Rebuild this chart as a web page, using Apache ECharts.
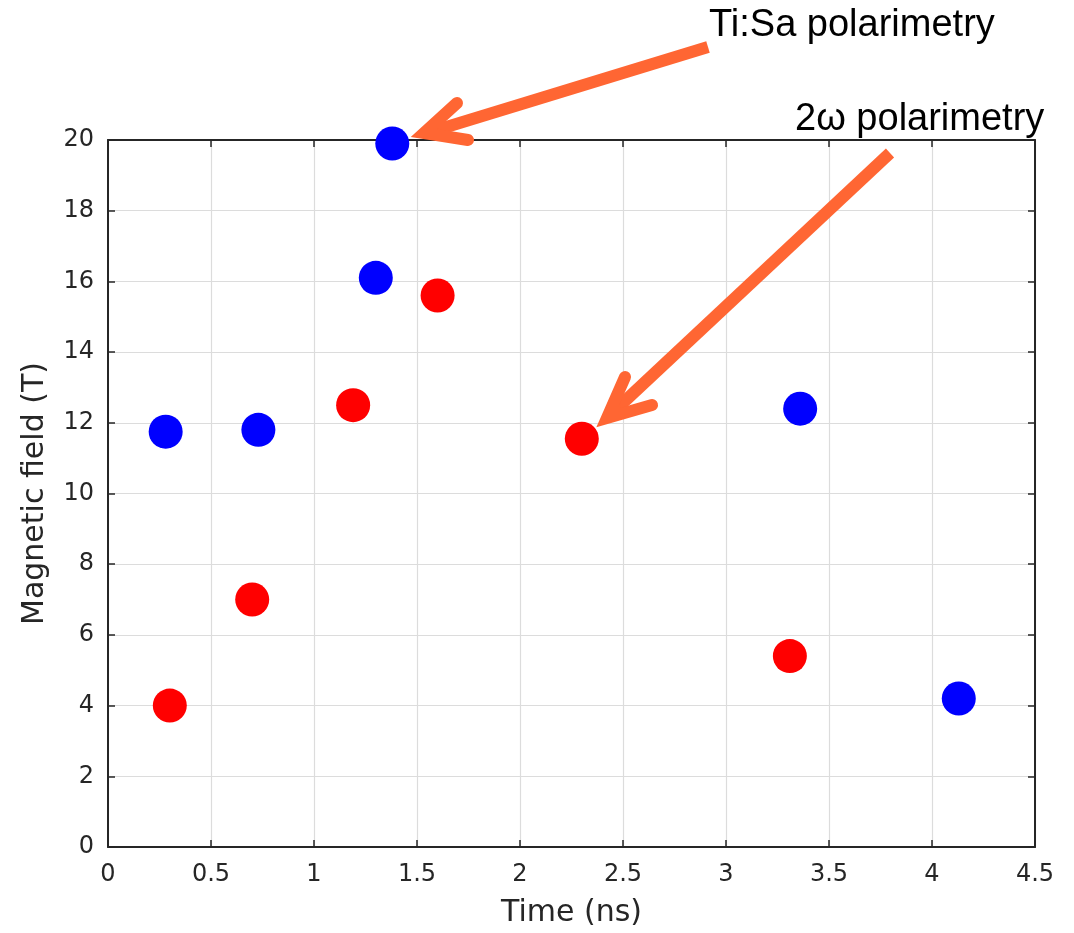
<!DOCTYPE html>
<html>
<head>
<meta charset="utf-8">
<script src="https://cdn.jsdelivr.net/npm/echarts@6/dist/echarts.min.js"></script>
<style>
  html, body { margin: 0; padding: 0; background: #fff; }
  #chart { width: 1074px; height: 933px; }
</style>
</head>
<body>
<div id="chart"></div>
<script>
// Ti:Sa polarimetry (blue)
const timeBlue = [0.28, 0.73, 1.38, 1.30, 3.36, 4.13];
const fieldBlue = [11.75, 11.8, 19.9, 16.1, 12.4, 4.2];
// 2w polarimetry (red)
const timeRed = [0.30, 0.70, 1.19, 1.60, 2.30, 3.31];
const fieldRed = [4.0, 7.0, 12.5, 15.6, 11.55, 5.4];

const xMin = 0, xMax = 4.5, xStep = 0.5;
const yMin = 0, yMax = 20, yStep = 2;

const axisColor = '#262626';
const arrowColor = '#ff6633';
const font = 'DejaVu Sans';

function pairs(xs, ys) {
  return xs.map((x, i) => [x, ys[i]]);
}

const chart = echarts.init(document.getElementById('chart'));

const baseX = {
  type: 'value', min: xMin, max: xMax, interval: xStep,
  axisLine: { show: true, onZero: false, lineStyle: { color: axisColor, width: 2 } },
  axisTick: { show: true, inside: true, length: 7, lineStyle: { color: axisColor, width: 1.5 } }
};
const baseY = {
  type: 'value', min: yMin, max: yMax, interval: yStep,
  axisLine: { show: true, onZero: false, lineStyle: { color: axisColor, width: 2 } },
  axisTick: { show: true, inside: true, length: 7, lineStyle: { color: axisColor, width: 1.5 } }
};

const option = {
  backgroundColor: '#fff',
  animation: false,
  grid: { left: 108, right: 39, top: 140, bottom: 85 },
  xAxis: [
    Object.assign({}, baseX, {
      position: 'bottom',
      name: 'Time (ns)', nameLocation: 'middle', nameGap: 51,
      nameTextStyle: { color: axisColor, fontSize: 30, fontFamily: font },
      axisLabel: { color: axisColor, fontSize: 24, fontFamily: font, margin: 16 },
      splitLine: { show: true, lineStyle: { color: '#dcdcdc', width: 1.2 } }
    }),
    Object.assign({}, baseX, {
      position: 'top',
      axisLabel: { show: false },
      splitLine: { show: false }
    })
  ],
  yAxis: [
    Object.assign({}, baseY, {
      position: 'left',
      name: 'Magnetic field (T)', nameLocation: 'middle', nameGap: 58,
      nameTextStyle: { color: axisColor, fontSize: 30, fontFamily: font },
      axisLabel: { color: axisColor, fontSize: 24, fontFamily: font, margin: 14 },
      splitLine: { show: true, lineStyle: { color: '#dcdcdc', width: 1.2 } }
    }),
    Object.assign({}, baseY, {
      position: 'right',
      axisLabel: { show: false },
      splitLine: { show: false }
    })
  ],
  series: [
    {
      name: 'Ti:Sa polarimetry',
      type: 'scatter',
      data: pairs(timeBlue, fieldBlue),
      symbolSize: 34,
      itemStyle: { color: '#0000ff', opacity: 1 }
    },
    {
      name: '2ω polarimetry',
      type: 'scatter',
      data: pairs(timeRed, fieldRed),
      symbolSize: 34,
      itemStyle: { color: '#ff0000', opacity: 1 }
    }
  ],
  graphic: [
    // annotation arrows
    { type: 'line', shape: { x1: 708, y1: 47, x2: 430, y2: 132 },
      style: { stroke: arrowColor, lineWidth: 12, lineCap: 'butt' }, z: 100 },
    { type: 'polyline', shape: { points: [[457, 103], [424, 133], [468, 140]] },
      style: { stroke: arrowColor, lineWidth: 12, lineCap: 'round', lineJoin: 'miter', fill: null }, z: 100 },
    { type: 'line', shape: { x1: 890, y1: 153, x2: 611, y2: 414 },
      style: { stroke: arrowColor, lineWidth: 12, lineCap: 'butt' }, z: 100 },
    { type: 'polyline', shape: { points: [[625, 377], [607, 418], [652, 405]] },
      style: { stroke: arrowColor, lineWidth: 12, lineCap: 'round', lineJoin: 'miter', fill: null }, z: 100 },
    { type: 'text', left: 709, top: 7, z: 100,
      style: { text: 'Ti:Sa polarimetry', fill: '#000', fontSize: 38, fontFamily: 'Liberation Sans' } },
    { type: 'text', left: 795, top: 101, z: 100,
      style: { text: '2ω polarimetry', fill: '#000', fontSize: 38, fontFamily: 'Liberation Sans' } }
  ]
};

chart.setOption(option);
</script>
</body>
</html>
